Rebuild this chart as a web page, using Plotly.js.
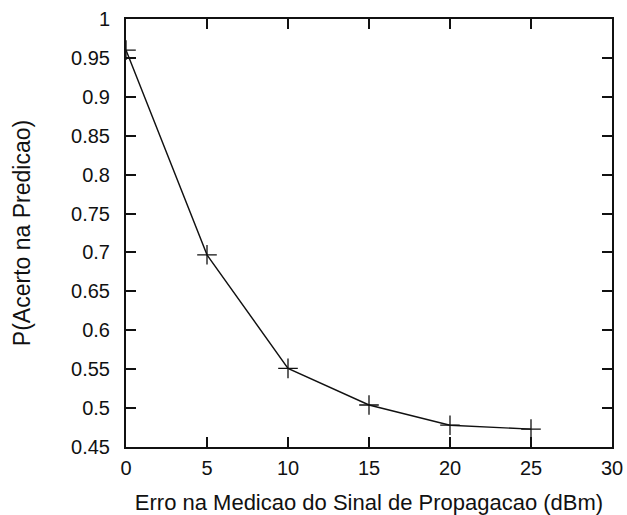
<!DOCTYPE html>
<html>
<head>
<meta charset="utf-8">
<script src="https://cdn.plot.ly/plotly-3.0.1.min.js"></script>
<style>html,body{margin:0;padding:0;background:#fff;}#chart{width:627px;height:515px;}</style>
</head>
<body>
<div id="chart"></div>
<script>
const erroDbm = [0, 5, 10, 15, 20, 25];
const pAcerto = [0.960, 0.697, 0.551, 0.504, 0.478, 0.473];
const xTickVals = [0, 5, 10, 15, 20, 25, 30];
const yTickVals = [0.45, 0.5, 0.55, 0.6, 0.65, 0.7, 0.75, 0.8, 0.85, 0.9, 0.95, 1];
const yTickText = ['0.45', '0.5', '0.55', '0.6', '0.65', '0.7', '0.75', '0.8', '0.85', '0.9', '0.95', '1'];

const tickFont = {family: 'Liberation Sans, Arial, sans-serif', size: 20, color: '#111'};
const titleFont = {family: 'Liberation Sans, Arial, sans-serif', size: 22, color: '#111'};
const yTitleFont = {family: 'Liberation Sans, Arial, sans-serif', size: 23, color: '#111'};

Plotly.newPlot('chart', [{
  x: erroDbm, y: pAcerto, type: 'scatter', mode: 'lines+markers',
  line: {color: '#111', width: 1.4},
  marker: {symbol: 'cross-thin', size: 14, line: {color: '#111', width: 1.3}},
  showlegend: false
}], {
  width: 627, height: 515,
  margin: {l: 126, r: 15, t: 19, b: 68},
  paper_bgcolor: '#fff', plot_bgcolor: '#fff',
  font: tickFont,
  xaxis: {
    range: [0, 30], tickvals: xTickVals, ticks: 'inside', ticklen: 10, tickwidth: 2, tickcolor: '#111',
    showline: true, linecolor: '#111', linewidth: 2, mirror: 'ticks', showgrid: false, zeroline: false,
    tickfont: tickFont, ticklabelstandoff: 2,
    title: {text: 'Erro na Medicao do Sinal de Propagacao (dBm)', font: titleFont, standoff: 20}
  },
  yaxis: {
    range: [0.45, 1], tickvals: yTickVals, ticktext: yTickText, ticks: 'inside', ticklen: 10, tickwidth: 2, tickcolor: '#111',
    showline: true, linecolor: '#111', linewidth: 2, mirror: 'ticks', showgrid: false, zeroline: false,
    tickfont: tickFont, ticklabelstandoff: 10,
    title: {text: 'P(Acerto na Predicao)', font: yTitleFont, standoff: 34}
  }
}, {staticPlot: true});
</script>
</body>
</html>
